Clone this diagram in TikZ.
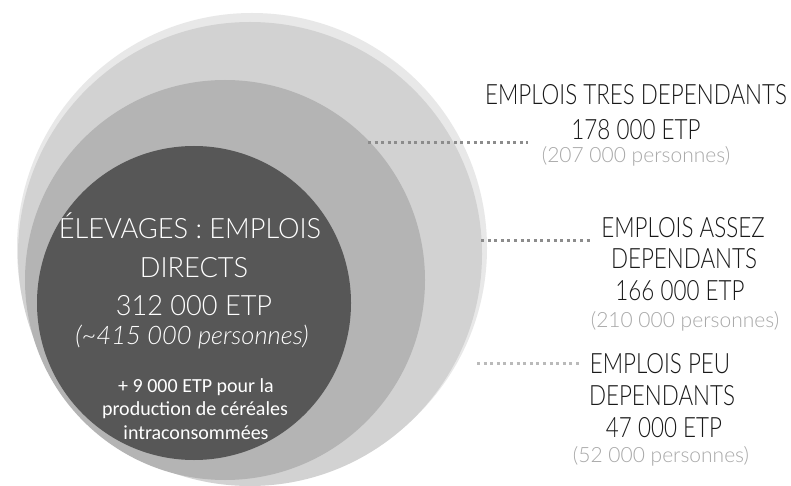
\documentclass[tikz,border=0pt]{standalone}
\usepackage{fontspec}
\setmainfont{Lato}[UprightFont=* Light, ItalicFont=* Light Italic]
\newfontfamily\circlefont{Lato}[UprightFont=* Light, FakeStretch=0.97]
\newfontfamily\narrowfont{Lato}[UprightFont=* Light, FakeStretch=0.80]
\newfontfamily\notefont{Carlito}

\definecolor{ringA}{HTML}{E8E8E8}
\definecolor{ringB}{HTML}{D2D2D2}
\definecolor{ringC}{HTML}{B4B4B4}
\definecolor{ringD}{HTML}{575757}
\definecolor{labelgrey}{HTML}{A8A8A8}
\definecolor{dotgrey}{HTML}{8C8C8C}

\tikzset{
  inline/.style={anchor=base, inner sep=0pt, text=white, font=\circlefont\fontsize{28}{28}\selectfont},
  initalic/.style={anchor=base, inner sep=0pt, text=white, font=\fontsize{25.5}{25.5}\selectfont\itshape},
  insmall/.style={anchor=base, inner sep=0pt, text=white, font=\notefont\fontsize{20}{20}\selectfont},
  outline/.style={anchor=base, inner sep=0pt, text=black!90, font=\narrowfont\fontsize{28}{28}\selectfont},
  outgrey/.style={anchor=base, inner sep=0pt, text=labelgrey, font=\fontsize{21}{21}\selectfont},
  dotline/.style={dotgrey, line width=3pt, dash pattern=on 3pt off 3.6pt},
}

\begin{document}
\begin{tikzpicture}[x=1pt, y=-1pt]

\useasboundingbox (0,0) rectangle (791,486);
\fill[white] (0,0) rectangle (791,486);

% nested rings
\fill[ringA] (252,248) circle [radius=235];
\fill[ringB] (250,254) circle [radius=232];
\fill[ringC] (225,280) circle [radius=200];
\fill[ringD] (194,303) circle [radius=157];

% text in the dark circle
\node[inline] (dir1) at (190,238) {ÉLEVAGES : EMPLOIS};
\node[inline] (dir2) at (194,277) {DIRECTS};
\node[inline] (dir3) at (194,315) {312 000 ETP};
\node[initalic] (dir4) at (192,344) {(\textasciitilde415 000 personnes)};
\node[insmall] (cer1) at (196,392) {+ 9 000 ETP pour la};
\node[insmall] (cer2) at (195,415) {production de céréales};
\node[insmall] (cer3) at (196,439) {intraconsommées};

% labels on the right
\node[outline] (tres1) at (636,105) {EMPLOIS TRES DEPENDANTS};
\node[outline] (tres2) at (636,140) {178 000 ETP};
\node[outgrey] (tres3) at (636,163) {(207 000 personnes)};

\node[outline] (assez1) at (683,237) {EMPLOIS ASSEZ};
\node[outline] (assez2) at (684,268) {DEPENDANTS};
\node[outline] (assez3) at (680,300) {166 000 ETP};
\node[outgrey] (assez4) at (685,327) {(210 000 personnes)};

\node[outline] (peu1) at (660,373) {EMPLOIS PEU};
\node[outline] (peu2) at (662,405) {DEPENDANTS};
\node[outline] (peu3) at (664,437) {47 000 ETP};
\node[outgrey] (peu4) at (661,462) {(52 000 personnes)};

% dotted leaders
\coordinate (tresdot) at (368,143);
\coordinate (assezdot) at (481,240);
\coordinate (peudot) at (477,363);
\draw[dotline] (tresdot) -- ([xshift=-14pt]tres3.west |- tresdot);
\draw[dotline] (assezdot) -- ([xshift=-9pt]assez1.west |- assezdot);
\draw[dotline, dotgrey!60] (peudot) -- ([xshift=-11pt]peu1.west |- peudot);

\end{tikzpicture}
\end{document}
